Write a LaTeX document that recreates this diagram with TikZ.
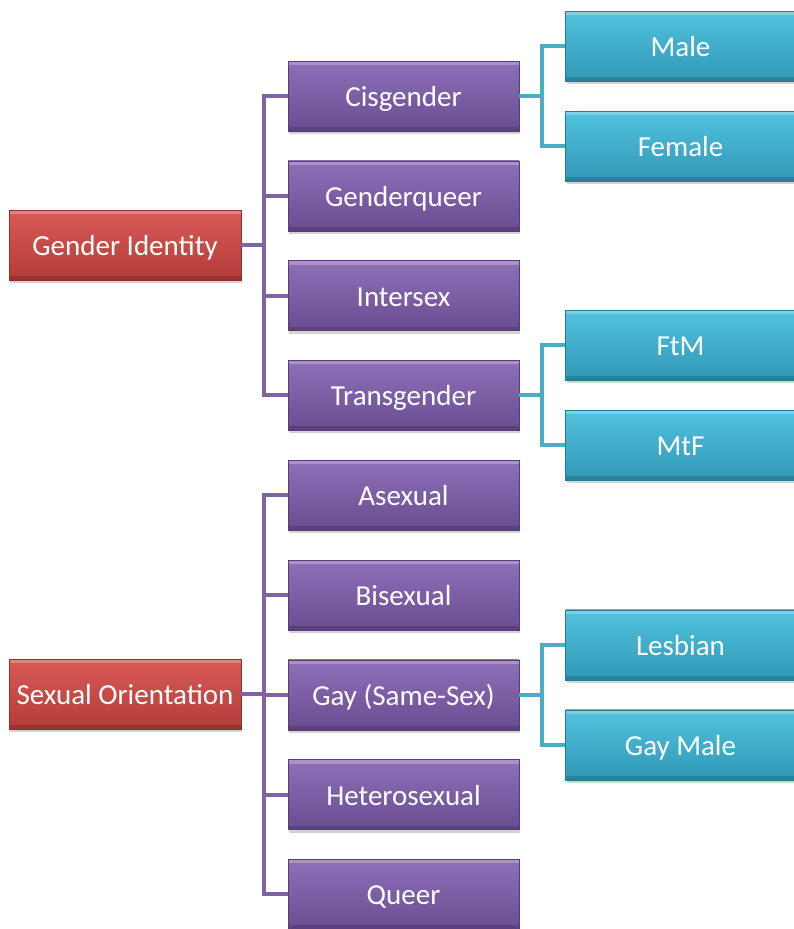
\documentclass[tikz,border=0pt]{standalone}
\usepackage{fontspec}
\setmainfont{Carlito}
\usepackage{tikz}
\usetikzlibrary{positioning,shadows}

\definecolor{redtop}{HTML}{DA5A55}
\definecolor{redbot}{HTML}{B23C39}
\definecolor{purtop}{HTML}{8E70B8}
\definecolor{purbot}{HTML}{6A4C92}
\definecolor{cyantop}{HTML}{52C3DE}
\definecolor{cyanbot}{HTML}{2F98B6}
\definecolor{purline}{HTML}{8064A2}
\definecolor{cyanline}{HTML}{4BACC6}

\tikzset{
  box/.style={rectangle, minimum height=70pt, text=white, font=\fontsize{29}{33}\selectfont,
    text height=27pt, text depth=6pt,
    drop shadow={shadow xshift=1pt, shadow yshift=-3pt, opacity=0.35},
    path picture={
      \fill[white, opacity=0.25] (path picture bounding box.north west) rectangle
        ([yshift=-4pt]path picture bounding box.north east);
      \fill[black, opacity=0.15] (path picture bounding box.south west) rectangle
        ([yshift=4pt]path picture bounding box.south east);
    }},
  rootbox/.style={box, minimum width=232pt, top color=redtop, bottom color=redbot, draw=redbot!80!black},
  catbox/.style={box, minimum width=231pt, top color=purtop, bottom color=purbot, draw=purbot!80!black},
  subbox/.style={box, minimum width=230pt, top color=cyantop, bottom color=cyanbot, draw=cyanbot!80!black},
  plink/.style={draw=purline, line width=4pt},
  clink/.style={draw=cyanline, line width=4pt}
}

\begin{document}
\begin{tikzpicture}[node distance=99.8pt, on grid]
   \useasboundingbox (0,0) rectangle (794pt,-929pt);

   % gender identity
   \node[rootbox] (gid) at (125pt,-245pt) {Gender Identity};
   \node[catbox] (cis) at (403.5pt,-96pt) {Cisgender};
   \node[catbox] (gq) [below=of cis] {Genderqueer};
   \node[catbox] (inter) [below=of gq] {Intersex};
   \node[catbox] (trans) [below=of inter] {Transgender};

   \node[subbox] (male) [above right=50pt and 277pt of cis] {Male};
   \node[subbox] (female) [below=100pt of male] {Female};
   \node[subbox] (ftm) [above right=50pt and 277pt of trans] {FtM};
   \node[subbox] (mtf) [below=100pt of ftm] {MtF};

   % sexual orientation
   \node[rootbox] (sor) at (125pt,-694pt) {Sexual Orientation};
   \node[catbox] (asex) [below=of trans] {Asexual};
   \node[catbox] (bisex) [below=of asex] {Bisexual};
   \node[catbox] (gay) [below=of bisex] {Gay (Same-Sex)};
   \node[catbox] (hetero) [below=of gay] {Heterosexual};
   \node[catbox] (queer) [below=of hetero] {Queer};

   \node[subbox] (lesb) [above right=50pt and 277pt of gay] {Lesbian};
   \node[subbox] (gmale) [below=100pt of lesb] {Gay Male};

   % connectors
   \path[plink] (gid.east) -- ++(23pt,0) coordinate (gbar);
   \foreach \c in {cis,gq,inter,trans}
     \path[plink] (gbar) |- (\c.west);
   \path[plink] (sor.east) -- ++(23pt,0) coordinate (sbar);
   \foreach \c in {asex,bisex,gay,hetero,queer}
     \path[plink] (sbar) |- (\c.west);

   \path[clink] (cis.east) -- ++(23pt,0) coordinate (cbar);
   \foreach \c in {male,female}
     \path[clink] (cbar) |- (\c.west);
   \path[clink] (trans.east) -- ++(23pt,0) coordinate (tbar);
   \foreach \c in {ftm,mtf}
     \path[clink] (tbar) |- (\c.west);
   \path[clink] (gay.east) -- ++(23pt,0) coordinate (ybar);
   \foreach \c in {lesb,gmale}
     \path[clink] (ybar) |- (\c.west);
\end{tikzpicture}
\end{document}
